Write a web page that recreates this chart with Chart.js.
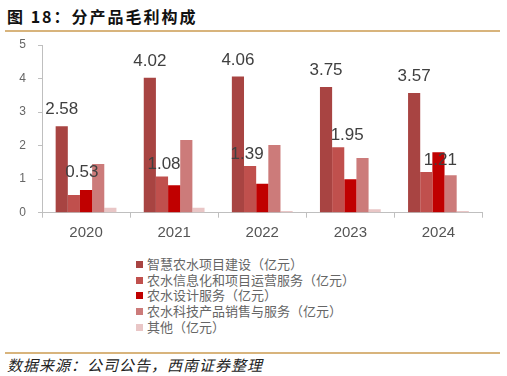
<!DOCTYPE html>
<html>
<head>
<meta charset="utf-8">
<script src="https://cdn.jsdelivr.net/npm/chart.js@4.4.1/dist/chart.umd.min.js"></script>
<style>
  body { margin: 0; width: 507px; height: 376px; background: #fff; position: relative; overflow: hidden; font-family: "Noto Sans CJK SC", sans-serif; }
  #title { position: absolute; left: 7px; top: 4px; font-size: 16px; font-weight: bold; letter-spacing: 2px; color: #111; }
  .rule { position: absolute; left: 5px; width: 495px; height: 2px; background: #d8b47c; }
  #wrap { position: absolute; left: 0; top: 0; width: 507px; height: 250px; }
  #legend { position: absolute; left: 136px; top: 256px; font-size: 13px; color: #666; }
  #legend div { height: 15.7px; line-height: 15.7px; white-space: nowrap; }
  #legend span { display: inline-block; width: 7px; height: 7px; margin-right: 4px; vertical-align: 1px; }
  #source { position: absolute; left: 7px; top: 354px; font-size: 15px; font-style: italic; letter-spacing: 1px; color: #222; }
</style>
</head>
<body>
<div id="title">图 18：分产品毛利构成</div>
<div class="rule" style="top:30px"></div>
<div id="wrap"><canvas id="grossChart"></canvas></div>
<div id="legend"></div>
<div class="rule" style="top:352px"></div>
<div id="source">数据来源：公司公告，西南证券整理</div>
<script>
// Data
const years = ['2020', '2021', '2022', '2023', '2024'];
const seriesNames = [
    '智慧农水项目建设（亿元）',
    '农水信息化和项目运营服务（亿元）',
    '农水设计服务（亿元）',
    '农水科技产品销售与服务（亿元）',
    '其他（亿元）'
];
const smartWater = [2.58, 4.02, 4.06, 3.75, 3.57];
const infoOps = [0.53, 1.08, 1.39, 1.95, 1.21];
const designService = [0.68, 0.82, 0.86, 1.00, 1.80];
const techProducts = [1.45, 2.17, 2.02, 1.63, 1.12];
const others = [0.15, 0.15, 0.05, 0.10, 0.05];
const yTicks = [0, 1, 2, 3, 4, 5];

const colors = ['#a84442', '#c0504d', '#c00000', '#cc7b7a', '#e9c6c6'];
const allValues = [smartWater, infoOps, designService, techProducts, others];

// Small plugin to write value labels above the bars
const valueLabels = {
    id: 'valueLabels',
    afterDatasetsDraw(chart) {
        const ctx = chart.ctx;
        ctx.save();
        ctx.font = '17px "Liberation Sans", Arial, sans-serif';
        ctx.fillStyle = '#404040';
        ctx.textAlign = 'center';
        ctx.textBaseline = 'alphabetic';
        chart.data.datasets.forEach((ds, i) => {
            if (!ds.labelOffset) return;
            const meta = chart.getDatasetMeta(i);
            meta.data.forEach((bar, j) => {
                const dx = ds.labelDx ? ds.labelDx[j] : 0;
                ctx.fillText(ds.data[j].toFixed(2), bar.x + dx, bar.y - ds.labelOffset[j]);
            });
        });
        ctx.restore();
    }
};

const datasets = seriesNames.map((name, i) => ({
    label: name,
    data: allValues[i],
    backgroundColor: colors[i],
    borderWidth: 0
}));
datasets[0].labelOffset = [12, 12, 12, 12, 12];
datasets[1].labelOffset = [18, 7, 7, 7, 7];
datasets[1].labelDx = [8, 2, -3, 9, 14];

// Legend as plain html, listed vertically
const legendBox = document.getElementById('legend');
seriesNames.forEach((name, i) => {
    const row = document.createElement('div');
    row.innerHTML = '<span style="background:' + colors[i] + '"></span>' + name;
    legendBox.appendChild(row);
});

const ctx = document.getElementById('grossChart').getContext('2d');
new Chart(ctx, {
    type: 'bar',
    data: { labels: years, datasets: datasets },
    plugins: [valueLabels],
    options: {
        responsive: true,
        maintainAspectRatio: false,
        animation: false,
        layout: { padding: { left: 0, right: 24.5, top: 45, bottom: 7.3 } },
        plugins: {
            legend: { display: false },
            tooltip: { enabled: false }
        },
        datasets: {
            bar: { categoryPercentage: 0.69, barPercentage: 1.0 }
        },
        scales: {
            y: {
                min: 0,
                max: 5,
                afterBuildTicks(scale) { scale.ticks = yTicks.map(v => ({ value: v })); },
                afterFit(scale) { scale.width = 42; },
                border: { color: '#bfbfbf', width: 1 },
                grid: { display: true, drawOnChartArea: false, tickLength: 4, color: '#bfbfbf' },
                ticks: { padding: 12, color: '#666', font: { size: 12, family: '"Liberation Sans", Arial, sans-serif' } }
            },
            x: {
                offset: true,
                afterFit(scale) { scale.height = 30; },
                border: { color: '#bfbfbf', width: 1 },
                grid: { display: true, drawOnChartArea: false, offset: true, tickLength: 5, color: '#bfbfbf' },
                ticks: { padding: 6, color: '#555', font: { size: 15, family: '"Liberation Sans", Arial, sans-serif' } }
            }
        }
    }
});
</script>
</body>
</html>
